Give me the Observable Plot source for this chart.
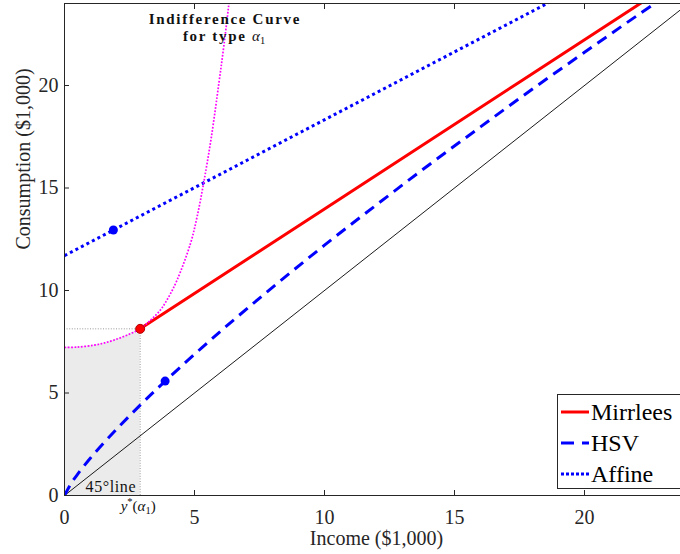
<!DOCTYPE html>
<html>
<head>
<meta charset="utf-8">
<script src="https://cdn.jsdelivr.net/npm/d3@7"></script>
<script src="https://cdn.jsdelivr.net/npm/@observablehq/plot@0.6"></script>
<style>
  body { margin: 0; background: #fff; }
  #wrap { position: relative; width: 680px; height: 554px; overflow: hidden; background: #fff; }
  #wrap > svg { max-width: none !important; width: 688px !important; height: 554px !important; }
  #legend {
    position: absolute; left: 557px; top: 394px; width: 150px; height: 93px;
    border: 1px solid #262626; background: #fff;
    font-family: "Liberation Serif", "Times New Roman", serif; font-size: 24px; color: #000;
  }
  .row { position: absolute; left: 2px; height: 30px; display: flex; align-items: center; }
  .row svg { display: block; margin-right: 2px; }
</style>
</head>
<body>
<div id="wrap"></div>
<script>
// Income grid and tick values ($1,000)
const xTicks = [0, 5, 10, 15, 20];
const yTicks = [0, 5, 10, 15, 20];

// 45-degree reference line
const diagX = [0, 24];
const diagY = [0, 24];

// Mirrlees (optimal) schedule, starting at the bunching point y*(α1)
const mirrleesX = [2.91, 10, 17.55, 24];
const mirrleesY = [8.13, 13.98, 20.21, 25.53];

// HSV schedule
const hsvX = [0, 0.25, 0.5, 1, 2, 3, 4, 6, 8, 10, 12, 14, 16, 18, 20, 22, 24];
const hsvY = [0, 0.58, 1.03, 1.83, 3.23, 4.52, 5.73, 8.01, 10.15, 12.21, 14.18, 16.11, 17.98, 19.83, 21.62, 23.39, 25.13];

// Affine schedule
const affineX = [0, 1.88, 24];
const affineY = [11.7, 12.95, 27.6];

// Indifference curve for type α1
const indiffX = [0, 0.5, 1.13, 1.5, 1.9, 2.4, 2.91, 3.3, 3.69, 4.0, 4.33, 4.85, 5.1, 5.36, 5.65, 5.94, 6.13, 6.32, 6.45];
const indiffY = [7.22, 7.24, 7.33, 7.43, 7.58, 7.82, 8.13, 8.54, 9.05, 9.67, 10.51, 12.31, 13.6, 15.3, 17.5, 20.13, 21.95, 23.96, 25.4];

// Chosen points on each schedule
const mirrleesPt = {x: 2.91, y: 8.13};
const hsvPt = {x: 3.87, y: 5.58};
const affinePt = {x: 1.88, y: 12.95};

// y*(α1): income of the bunching point
const yStar = 2.91;

const zip = (xs, ys) => xs.map((x, i) => ({x, y: ys[i]}));
const diag = zip(diagX, diagY);
const mirrlees = zip(mirrleesX, mirrleesY);
const hsv = zip(hsvX, hsvY);
const affine = zip(affineX, affineY);
const indiff = zip(indiffX, indiffY);
const shade = indiff.filter(d => d.x <= yStar);

const serif = "'Liberation Serif', 'Times New Roman', serif";
const axisColor = "#262626";
const butt = {strokeLinecap: "butt", strokeLinejoin: "miter"};

const chart = Plot.plot({
  width: 688,
  height: 554,
  marginLeft: 64,
  marginRight: 0,
  marginTop: 3,
  marginBottom: 59,
  style: {fontFamily: serif, fontSize: "20px", color: axisColor, background: "white", maxWidth: "none"},
  x: {domain: [0, 24]},
  y: {domain: [0, 24]},
  marks: [
    Plot.areaY(shade, {x: "x", y: "y", fill: "#ebebeb", curve: "catmull-rom"}),
    Plot.ruleY([mirrleesPt], {y: "y", x1: 0, x2: "x", stroke: "#808080", strokeWidth: 0.8, strokeDasharray: "1,1.6"}),
    Plot.ruleX([mirrleesPt], {x: "x", y1: 0, y2: "y", stroke: "#808080", strokeWidth: 0.8, strokeDasharray: "1,1.6"}),
    Plot.line(diag, {x: "x", y: "y", stroke: "#000", strokeWidth: 0.9, clip: true}),
    Plot.line(affine, {x: "x", y: "y", stroke: "#0000ff", strokeWidth: 3, strokeDasharray: "3,3.2", clip: true, ...butt}),
    Plot.line(hsv, {x: "x", y: "y", stroke: "#0000ff", strokeWidth: 3, strokeDasharray: "11,7", curve: "catmull-rom", clip: true, ...butt}),
    Plot.line(mirrlees, {x: "x", y: "y", stroke: "#ff0000", strokeWidth: 3, clip: true}),
    Plot.line(indiff, {x: "x", y: "y", stroke: "#ff00ff", strokeWidth: 1.7, strokeDasharray: "1.7,1.6", curve: "catmull-rom", clip: true, ...butt}),
    Plot.dot([affinePt, hsvPt], {x: "x", y: "y", r: 4.5, fill: "#0000ff"}),
    Plot.dot([mirrleesPt], {x: "x", y: "y", r: 4.5, fill: "#ff0000", stroke: "#b00000", strokeWidth: 1}),
    Plot.frame({stroke: axisColor}),
    Plot.axisX({ticks: xTicks, tickSize: -5, tickPadding: 19, tickFormat: d => String(d), label: null}),
    Plot.axisX({anchor: "top", ticks: xTicks, tickSize: -5, tickFormat: () => "", label: null}),
    Plot.axisY({ticks: yTicks, tickSize: -5, tickPadding: 11, tickFormat: d => String(d), label: null}),
    // axis titles
    Plot.text(["Income ($1,000)"], {frameAnchor: "bottom", dy: 42.6, fontSize: 20, fill: axisColor, lineAnchor: "middle"}),
    Plot.text(["Consumption ($1,000)"], {frameAnchor: "left", dx: -41, rotate: -90, fontSize: 20, fill: axisColor, lineAnchor: "middle"}),
    // annotations
    Plot.text(["Indifference Curve\nfor type α1"], {x: 6.17, y: 23.55, lineAnchor: "top", lineHeight: 1.1, fontSize: 15, fontWeight: "bold", fill: "#111"}),
    Plot.text(["45°line"], {x: 0.81, y: 0.43, fontSize: 16, textAnchor: "start", fill: "#111"}),
    Plot.text(["y*(α1)"], {x: yStar, y: 0, dx: -2, dy: 11, fontSize: 15, fill: "#111"})
  ]
});

// Math-style subscripts and superscripts in the annotations
d3.select(chart).selectAll("text").each(function() {
  const t = this.textContent;
  if (t.startsWith("Indifference Curve")) {
    this.setAttribute("letter-spacing", "1.7px");
    d3.select(this).selectAll("tspan").each(function() {
      if (this.textContent === "for type α1") {
        this.innerHTML = 'for type <tspan font-style="italic" font-weight="normal" letter-spacing="0">α</tspan><tspan font-weight="normal" font-size="70%" dy="3">1</tspan>';
      }
    });
  } else if (t === "45°line") {
    this.setAttribute("letter-spacing", "0.6px");
  } else if (t === "y*(α1)") {
    this.innerHTML = '<tspan font-style="italic">y</tspan><tspan font-size="70%" dy="-6">*</tspan><tspan dy="6">(</tspan><tspan font-style="italic">α</tspan><tspan font-size="70%" dy="3">1</tspan><tspan dy="-3">)</tspan>';
  }
});

const wrap = document.getElementById("wrap");
wrap.appendChild(chart);

// Legend for the three schedules
const legendItems = [
  {name: "Mirrlees", color: "#ff0000", dash: null},
  {name: "HSV", color: "#0000ff", dash: "13,8"},
  {name: "Affine", color: "#0000ff", dash: "3,2"}
];
const legend = document.createElement("div");
legend.id = "legend";
legendItems.forEach((item, i) => {
  const row = document.createElement("div");
  row.className = "row";
  row.style.top = (2 + i * 31) + "px";
  const dash = item.dash ? ` stroke-dasharray="${item.dash}"` : "";
  row.innerHTML = `<svg width="29" height="10"><line x1="1" y1="5" x2="29" y2="5" stroke="${item.color}" stroke-width="3"${dash}/></svg><span>${item.name}</span>`;
  legend.appendChild(row);
});
wrap.appendChild(legend);
</script>
</body>
</html>
